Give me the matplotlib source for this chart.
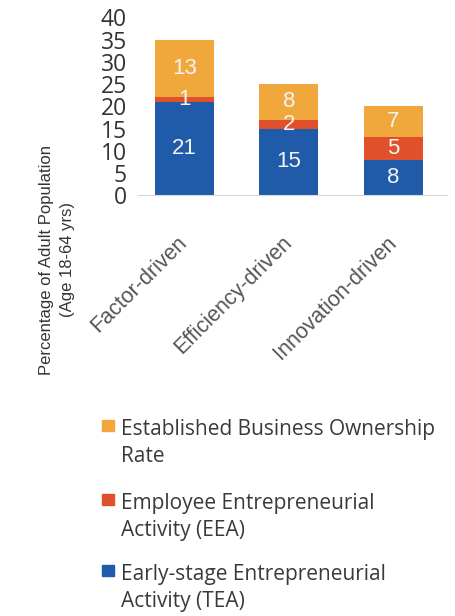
import matplotlib
matplotlib.use("Agg")
import matplotlib.pyplot as plt
from matplotlib.patches import Rectangle

# Data
categories = ['Factor-driven', 'Efficiency-driven', 'Innovation-driven']
tea = [21, 15, 8]
eea = [1, 2, 5]
ebo = [13, 8, 7]
series_names = ['Established Business Ownership\nRate',
                'Employee Entrepreneurial\nActivity (EEA)',
                'Early-stage Entrepreneurial\nActivity (TEA)']
colors = {'tea': '#1f5ba8', 'eea': '#e0502b', 'ebo': '#f0a83c'}

plt.rcParams['font.family'] = ['Liberation Sans', 'DejaVu Sans']

fig = plt.figure(figsize=(4.55, 6.16), dpi=100)
ax = fig.add_axes([0.303, 0.683, 0.679, 0.289])

x = list(range(len(categories)))
width = 0.565
b1 = ax.bar(x, tea, width, color=colors['tea'])
bottom2 = tea
b2 = ax.bar(x, eea, width, bottom=bottom2, color=colors['eea'])
bottom3 = [a + b for a, b in zip(tea, eea)]
b3 = ax.bar(x, ebo, width, bottom=bottom3, color=colors['ebo'])

for bars in (b1, b2, b3):
    ax.bar_label(bars, label_type='center', color='#f4f4f4', fontsize=16)

ax.set_ylim(0, 40)
ax.set_xlim(-0.445, 2.51)
ax.set_yticks(range(0, 41, 5))
ax.tick_params(axis='y', length=0, labelsize=16.5, labelcolor='#333333', pad=8)
for t in ax.get_yticklabels():
    t.set_fontfamily(['Open Sans', 'DejaVu Sans'])
ax.set_xticks(x)
ax.set_xticklabels(categories, rotation=45, ha='right', va='center',
                   rotation_mode='anchor', fontsize=15.5, color='#555555')
ax.tick_params(axis='x', length=0, pad=32)
for s in ['top', 'right', 'left']:
    ax.spines[s].set_visible(False)
ax.spines['bottom'].set_color('#d9d9d9')

fig.text(0.125, 0.578, 'Percentage of Adult Population\n(Age 18-64 yrs)',
         rotation=90, ha='center', va='center', multialignment='center',
         fontsize=12, color='#333333', linespacing=1.55)

# legend drawn by hand to match the stacked layout
legend_colors = [colors['ebo'], colors['eea'], colors['tea']]
legend_y = [428, 502, 573]
for name, c, yy in zip(series_names, legend_colors, legend_y):
    fig.patches.append(Rectangle((102 / 455, 1 - (yy + 3) / 616), 12 / 455, 11 / 616,
                                 transform=fig.transFigure, color=c))
    fig.text(121 / 455, 1 - (yy - 9) / 616, name, ha='left', va='top',
             fontsize=15, color='#3a3a3a', linespacing=1.4,
             family=['Open Sans', 'DejaVu Sans'])

fig.savefig('out.png', dpi=100)
